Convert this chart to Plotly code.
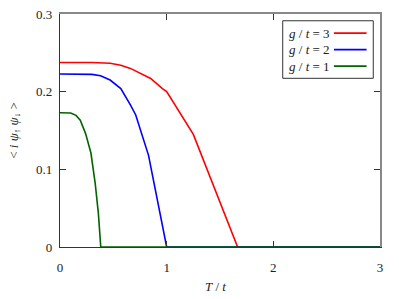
import plotly.graph_objects as go

# g/t = 3
t_g3 = [0.0, 0.3, 0.47, 0.57, 0.66, 0.75, 0.85, 0.96, 1.0, 1.25, 1.665, 3.0]
v_g3 = [0.2375, 0.2375, 0.2365, 0.234, 0.230, 0.2236, 0.217, 0.204, 0.200, 0.145, 0.0, 0.0]
# g/t = 2
t_g2 = [0.0, 0.2, 0.3, 0.38, 0.47, 0.57, 0.63, 0.66, 0.71, 0.80, 0.83, 1.0, 3.0]
v_g2 = [0.2227, 0.2226, 0.2222, 0.2205, 0.215, 0.204, 0.191, 0.183, 0.170, 0.133, 0.118, 0.0, 0.0]
# g/t = 1
t_g1 = [0.0, 0.1, 0.15, 0.19, 0.24, 0.29, 0.33, 0.36, 0.382, 3.0]
v_g1 = [0.1728, 0.1726, 0.1695, 0.1633, 0.146, 0.121, 0.082, 0.043, 0.0, 0.0]

labels = ["<i>g</i> / <i>t</i> = 3", "<i>g</i> / <i>t</i> = 2", "<i>g</i> / <i>t</i> = 1"]
colors = ["#ff0000", "#0000ff", "#006400"]
series = [(t_g3, v_g3), (t_g2, v_g2), (t_g1, v_g1)]

x_ticks = [0, 1, 2, 3]
y_ticks = [0, 0.1, 0.2, 0.3]
y_tick_text = ["0", "0.1", "0.2", "0.3"]

FONT = "Liberation Serif, Times New Roman, Times, serif"
TXT = "#222"

fig = go.Figure()
for (tx, vy), lab, col in zip(series, labels, colors):
    fig.add_trace(go.Scatter(x=tx, y=vy, mode="lines", name=lab,
                             line=dict(color=col, width=1.6), showlegend=False))
# invisible trace to make the mirrored (top/right) axes render
fig.add_trace(go.Scatter(x=[0], y=[0], xaxis="x2", yaxis="y2", mode="markers",
                         marker=dict(opacity=0), hoverinfo="skip", showlegend=False))

axis_common = dict(ticks="inside", ticklen=6, tickwidth=1, showgrid=False, zeroline=False,
                   automargin=False, tickfont=dict(family=FONT, size=13, color=TXT))

fig.update_layout(
    width=399, height=299,
    margin=dict(l=60, r=19, t=14, b=52),
    paper_bgcolor="white", plot_bgcolor="white",
    showlegend=False,
    xaxis=dict(range=[0, 3], tickvals=x_ticks, ticktext=[str(v) for v in x_ticks],
               showline=True, linecolor="#333", linewidth=1.3, tickcolor="#333",
               ticklabelstandoff=8, **axis_common),
    yaxis=dict(range=[0, 0.3], tickvals=y_ticks, ticktext=y_tick_text,
               showline=True, linecolor="#333", linewidth=1.3, tickcolor="#333",
               ticklabelstandoff=4, **axis_common),
    xaxis2=dict(range=[0, 3], overlaying="x", side="top", tickvals=[1, 2], showticklabels=False,
                showline=True, linecolor="#888", linewidth=1.5, tickcolor="#333",
                ticks="inside", ticklen=6, showgrid=False, zeroline=False, anchor="y"),
    yaxis2=dict(range=[0, 0.3], overlaying="y", side="right", tickvals=[0.1, 0.2], showticklabels=False,
                showline=True, linecolor="#888", linewidth=1.5, tickcolor="#333",
                ticks="inside", ticklen=6, showgrid=False, zeroline=False, anchor="x"),
)

# axis titles
fig.add_annotation(xref="paper", yref="paper", x=0.487, y=-0.17, text="<i>T</i> / <i>t</i>",
                   showarrow=False, xanchor="center", yanchor="middle",
                   font=dict(family=FONT, size=13, color=TXT))
fig.add_annotation(xref="paper", yref="paper", x=-0.143, y=0.5,
                   text="< <i>i</i> <i>ψ</i><sub>↑</sub> <i>ψ</i><sub>↓</sub> >",
                   showarrow=False, textangle=-90, xanchor="center", yanchor="middle",
                   font=dict(family=FONT, size=13, color=TXT))

# manual legend (text left, line sample right)
x0, x1 = 0.696, 0.979
y_top, y_bot = 0.971, 0.724
fig.add_shape(type="rect", xref="paper", yref="paper", x0=x0, x1=x1, y0=y_bot, y1=y_top,
              line=dict(color="#333", width=1), fillcolor="white", layer="above")
entry_y = [0.918, 0.847, 0.776]
for lab, col, ey in zip(labels, colors, entry_y):
    fig.add_annotation(xref="paper", yref="paper", x=0.708, y=ey, text=lab, showarrow=False,
                       xanchor="left", yanchor="middle", font=dict(family=FONT, size=13, color=TXT))
    fig.add_shape(type="line", xref="paper", yref="paper", x0=0.856, x1=0.958, y0=ey, y1=ey,
                  line=dict(color=col, width=1.8), layer="above")

fig.write_html("out.html", config={"displayModeBar": False},
               post_script="document.body.style.margin='0';")
